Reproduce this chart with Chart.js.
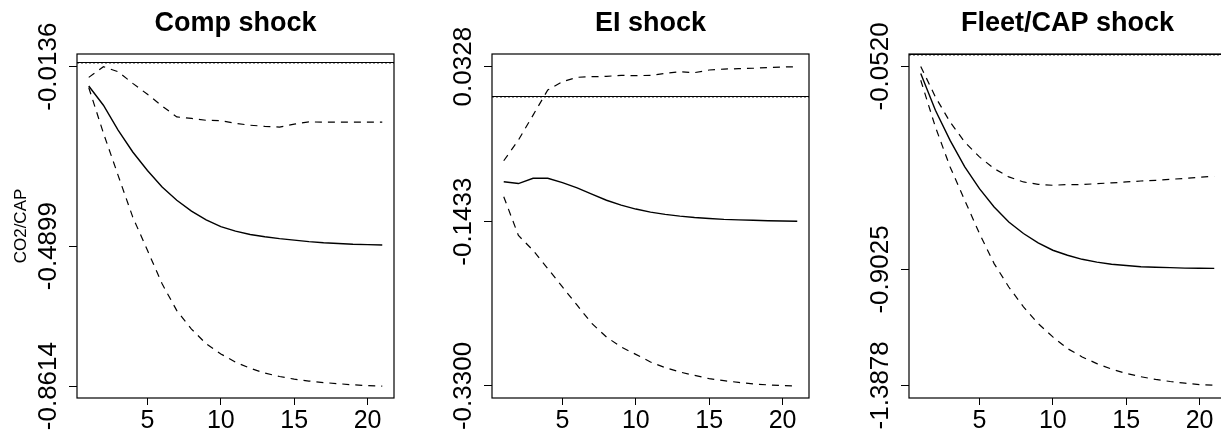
<!DOCTYPE html>
<html>
<head>
<meta charset="utf-8">
<script src="https://cdn.jsdelivr.net/npm/chart.js@4"></script>
<style>
  html, body { margin: 0; padding: 0; background: #fff; overflow: hidden; width: 1221px; height: 433px; }
  canvas { position: absolute; top: 0; }
</style>
</head>
<body>
<canvas id="chart1" width="471" height="433" style="left:0px"></canvas>
<canvas id="chart2" width="481" height="433" style="left:410px"></canvas>
<canvas id="chart3" width="495" height="433" style="left:820px"></canvas>
<script>
const steps = [1, 2, 3, 4, 5, 6, 7, 8, 9, 10, 11, 12, 13, 14, 15, 16, 17, 18, 19, 20, 21];
const xTicks = [5, 10, 15, 20];

// Comp shock
const compIrf = [-0.065, -0.116, -0.182, -0.240, -0.289, -0.333, -0.368, -0.397, -0.420, -0.438, -0.450,
  -0.459, -0.465, -0.470, -0.474, -0.478, -0.481, -0.483, -0.485, -0.486, -0.487];
const compUpper = [-0.042, -0.0136, -0.027, -0.058, -0.087, -0.118, -0.147, -0.151, -0.156, -0.157, -0.164,
  -0.169, -0.172, -0.174, -0.166, -0.160, -0.161, -0.161, -0.161, -0.161, -0.161];
const compLower = [-0.069, -0.190, -0.302, -0.413, -0.501, -0.590, -0.661, -0.710, -0.749, -0.776, -0.798,
  -0.814, -0.827, -0.836, -0.843, -0.848, -0.852, -0.855, -0.858, -0.860, -0.8614];
const compTicks = [-0.0136, -0.4899, -0.8614];

// EI shock
const eiIrf = [-0.098, -0.100, -0.094, -0.094, -0.099, -0.105, -0.112, -0.119, -0.1246, -0.129, -0.1325,
  -0.135, -0.137, -0.1386, -0.1397, -0.1407, -0.1413, -0.1418, -0.1422, -0.1425, -0.1428];
const eiUpper = [-0.0741, -0.0506, -0.0222, 0.0063, 0.0157, 0.0207, 0.0214, 0.0218, 0.0229, 0.0226, 0.0229,
  0.0252, 0.0271, 0.0260, 0.0290, 0.0301, 0.0305, 0.0310, 0.0317, 0.0324, 0.0328];
const eiLower = [-0.115, -0.159, -0.176, -0.1966, -0.2175, -0.2383, -0.259, -0.2744, -0.2858, -0.2941, -0.3028,
  -0.3092, -0.3142, -0.318, -0.3217, -0.324, -0.326, -0.3277, -0.3288, -0.3296, -0.33];
const eiTicks = [0.0328, -0.1433, -0.33];

// Fleet/CAP shock
const fleetIrf = [-0.082, -0.236, -0.362, -0.473, -0.564, -0.641, -0.704, -0.752, -0.791, -0.822, -0.843,
  -0.860, -0.872, -0.881, -0.886, -0.891, -0.893, -0.895, -0.897, -0.8975, -0.898];
const fleetUpper = [-0.052, -0.180, -0.285, -0.369, -0.431, -0.480, -0.515, -0.536, -0.546, -0.550, -0.547,
  -0.547, -0.543, -0.540, -0.536, -0.532, -0.529, -0.525, -0.521, -0.5165, -0.512];
const fleetLower = [-0.110, -0.306, -0.473, -0.613, -0.752, -0.878, -0.976, -1.059, -1.129, -1.185, -1.234,
  -1.269, -1.297, -1.320, -1.338, -1.352, -1.363, -1.372, -1.379, -1.385, -1.3878];
const fleetTicks = [-0.052, -0.9025, -1.3878];

Chart.defaults.font.family = '"Liberation Sans", Arial, sans-serif';
Chart.defaults.color = '#000';

// box round the plot and the zero line
const framePlugin = {
  id: 'frame',
  beforeDatasetsDraw(chart) {
    const { ctx, chartArea: a, scales: { y } } = chart;
    const y0 = Math.round(y.getPixelForValue(0)) + 0.5;
    ctx.save();
    ctx.strokeStyle = '#000';
    ctx.lineWidth = 1.2;
    ctx.beginPath(); ctx.moveTo(a.left, y0); ctx.lineTo(a.right, y0); ctx.stroke();
    ctx.strokeStyle = '#999';
    ctx.lineWidth = 1;
    ctx.setLineDash([2, 2]);
    ctx.beginPath(); ctx.moveTo(a.left, y0 + 1); ctx.lineTo(a.right, y0 + 1); ctx.stroke();
    ctx.restore();
  },
  afterDatasetsDraw(chart) {
    const { ctx, chartArea: a } = chart;
    ctx.save();
    ctx.strokeStyle = '#000';
    ctx.lineWidth = 1.2;
    ctx.strokeRect(a.left, a.top, a.right - a.left, a.bottom - a.top);
    ctx.restore();
  }
};

function toPoints(vals) {
  return vals.map((v, i) => ({ x: steps[i], y: v }));
}

function makePanel(id, title, yTitle, irf, lower, upper, yTicks, yMin, yMax, margin) {
  const line = (vals, dashed) => ({
    data: toPoints(vals),
    borderColor: '#000',
    borderWidth: dashed ? 1.2 : 1.4,
    borderDash: dashed ? [7, 6] : [],
    pointRadius: 0,
    tension: 0,
    fill: false
  });
  new Chart(document.getElementById(id), {
    type: 'line',
    data: { datasets: [line(irf, false), line(lower, true), line(upper, true)] },
    options: {
      responsive: false,
      animation: false,
      devicePixelRatio: 1,
      layout: { padding: 0 },
      plugins: {
        legend: { display: false },
        tooltip: { enabled: false },
        title: {
          display: true,
          text: title,
          color: '#000',
          font: { size: 27, weight: 'bold' },
          padding: { top: 7, bottom: 14.6 }
        }
      },
      scales: {
        x: {
          type: 'linear',
          min: 0.2,
          max: 21.8,
          afterBuildTicks: s => { s.ticks = xTicks.map(v => ({ value: v })); },
          afterFit: s => { s.height = 35; },
          grid: { drawOnChartArea: false, tickLength: 7, color: '#000' },
          border: { display: false },
          ticks: { font: { size: 25 }, color: '#000', padding: 1, maxRotation: 0, autoSkip: false }
        },
        y: {
          min: yMin,
          max: yMax,
          afterBuildTicks: s => { s.ticks = yTicks.map(v => ({ value: v })); },
          afterFit: s => { s.width = margin; },
          grid: { drawOnChartArea: false, tickLength: 8, color: '#000' },
          border: { display: false },
          ticks: {
            font: { size: 26 }, color: '#000',
            minRotation: 90, maxRotation: 90,
            crossAlign: 'center', padding: -24, autoSkip: false,
            callback: v => v.toFixed(4)
          },
          title: {
            display: !!yTitle,
            text: yTitle,
            color: '#000',
            font: { size: 17 },
            padding: { top: 11, bottom: 0 }
          }
        },
        // empty right margin, so the title centres over the plot box
        yPad: {
          position: 'right',
          min: 0,
          max: 1,
          afterFit: s => { s.width = margin; },
          grid: { display: false },
          border: { display: false },
          ticks: { display: false }
        }
      }
    },
    plugins: [framePlugin]
  });
}

window.addEventListener('load', function() {
  makePanel('chart1', 'Comp shock', 'CO2/CAP', compIrf, compLower, compUpper, compTicks, -0.893, 0.020, 77);
  makePanel('chart2', 'EI shock', '', eiIrf, eiLower, eiUpper, eiTicks, -0.3437, 0.0472, 82);
  makePanel('chart3', 'Fleet/CAP shock', '', fleetIrf, fleetLower, fleetUpper, fleetTicks, -1.441, 0.0, 89);
});
</script>
</body>
</html>
